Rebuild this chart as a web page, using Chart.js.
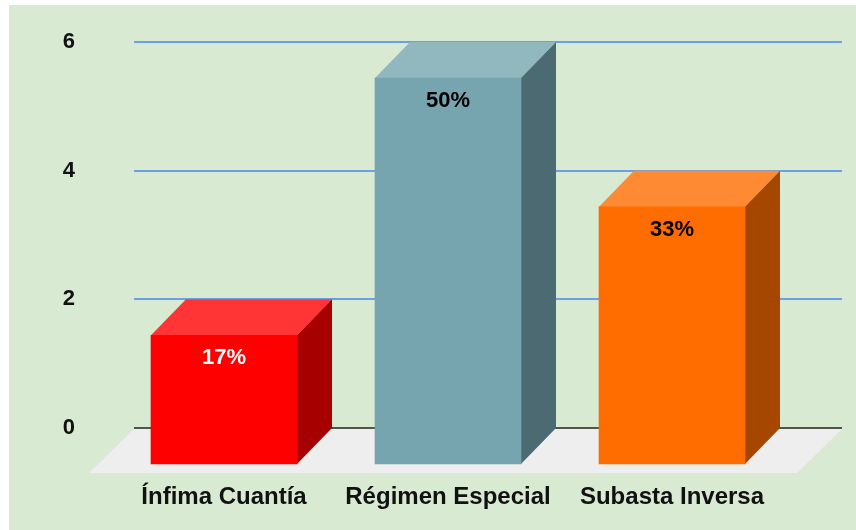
<!DOCTYPE html>
<html><head><meta charset="utf-8">
<script src="https://cdn.jsdelivr.net/npm/chart.js@4.4.1/dist/chart.umd.min.js"></script>
<style>
html,body{margin:0;padding:0;background:#ffffff;width:856px;height:530px;overflow:hidden}
#wrap{position:absolute;left:9px;top:5px;width:847px;height:525px;background:#d9ead3}
canvas{display:block}
</style></head><body>
<div id="wrap"><canvas id="c" width="847" height="525"></canvas></div>
<script>
const categories = ['Ínfima Cuantía', 'Régimen Especial', 'Subasta Inversa'];
const values = [2, 6, 4];
const yTicks = [0, 2, 4, 6];
const frontColors = ['#ff0000', '#76a5af', '#ff6d01'];
const topColors = ['#ff3434', '#91b7bf', '#ff8a34'];
const sideColors = ['#a60000', '#4b6a71', '#a64700'];
const labelColors = ['#ffffff', '#000000', '#000000'];

const DX = 35, DY = 36;
const FONT = '"Liberation Sans", Arial, sans-serif';
const total = values.reduce((a, b) => a + b, 0);

const bars3d = {
  id: 'bars3d',
  beforeDatasetsDraw(chart) {
    const { ctx, chartArea: a, scales: { y } } = chart;
    ctx.save();
    const gl = a.left + 22, gr = a.right + 58;
    ctx.strokeStyle = '#6d9eeb';
    ctx.lineWidth = 2;
    yTicks.forEach(t => {
      if (t === 0) return;
      const py = Math.round(y.getPixelForValue(t));
      ctx.beginPath(); ctx.moveTo(gl, py); ctx.lineTo(gr, py); ctx.stroke();
    });
    const by = y.getPixelForValue(0);
    ctx.fillStyle = '#eeeeee';
    ctx.beginPath();
    ctx.moveTo(gl, by + 1); ctx.lineTo(gr, by + 1);
    ctx.lineTo(gr - 45, by + 45); ctx.lineTo(gl - 45, by + 45);
    ctx.closePath(); ctx.fill();
    ctx.strokeStyle = '#222222';
    ctx.lineWidth = 1.5;
    ctx.beginPath(); ctx.moveTo(gl, by); ctx.lineTo(gr, by); ctx.stroke();

    const meta = chart.getDatasetMeta(0);
    meta.data.forEach((bar, i) => {
      const { x, y: top, base, width } = bar.getProps(['x', 'y', 'base', 'width'], true);
      const l = x - width / 2, r = x + width / 2;
      ctx.fillStyle = topColors[i];
      ctx.beginPath();
      ctx.moveTo(l, top + DY); ctx.lineTo(r, top + DY);
      ctx.lineTo(r + DX, top); ctx.lineTo(l + DX, top);
      ctx.closePath(); ctx.fill();
      ctx.fillStyle = sideColors[i];
      ctx.beginPath();
      ctx.moveTo(r, top + DY); ctx.lineTo(r + DX, top);
      ctx.lineTo(r + DX, base); ctx.lineTo(r, base + DY);
      ctx.closePath(); ctx.fill();
    });
    ctx.restore();
    ctx.save();
    ctx.translate(0, DY);
  },
  afterDatasetsDraw(chart) {
    const { ctx } = chart;
    ctx.restore();
    const meta = chart.getDatasetMeta(0);
    ctx.save();
    ctx.textAlign = 'center';
    ctx.textBaseline = 'middle';
    meta.data.forEach((bar, i) => {
      const { x, y: top } = bar.getProps(['x', 'y'], true);
      ctx.font = 'bold 22px ' + FONT;
      ctx.fillStyle = labelColors[i];
      ctx.fillText(Math.round(values[i] / total * 100) + '%', x, top + DY + 23);
    });
    ctx.restore();
  }
};

new Chart(document.getElementById('c'), {
  type: 'bar',
  data: {
    labels: categories,
    datasets: [{
      data: values,
      backgroundColor: frontColors,
      borderWidth: 0,
      barThickness: 146,
      clip: false
    }]
  },
  options: {
    responsive: false,
    devicePixelRatio: 1,
    animation: false,
    layout: { padding: { left: 0, right: 72, top: 37, bottom: 0 } },
    plugins: { legend: { display: false }, tooltip: { enabled: false } },
    scales: {
      x: {
        grid: { display: false, drawTicks: false },
        border: { display: false },
        ticks: { color: '#111111', font: { family: FONT, size: 24, weight: 'bold' }, padding: 55, maxRotation: 0 },
        afterFit(s) { s.height = 102; s.paddingLeft = 0; s.paddingRight = 0; }
      },
      y: {
        min: 0, max: 6,
        grid: { display: false, drawTicks: false },
        border: { display: false },
        afterBuildTicks(s) { s.ticks = yTicks.map(v => ({ value: v })); },
        ticks: { color: '#111111', font: { family: FONT, size: 22, weight: 'bold' }, padding: 37 },
        afterFit(s) { s.width = 103; s.paddingTop = 0; s.paddingBottom = 0; }
      }
    }
  },
  plugins: [bars3d]
});
</script>
</body></html>
